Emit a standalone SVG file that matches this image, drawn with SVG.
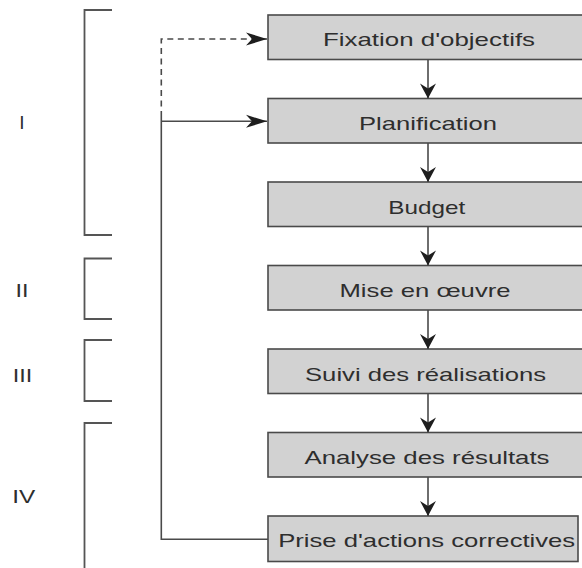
<svg xmlns="http://www.w3.org/2000/svg" width="582" height="568" viewBox="0 0 582 568">
  <style>
    .box { fill: #d2d2d2; stroke: #4a4a4a; stroke-width: 1.6; }
    .label { font-family: "Liberation Sans", Arial, sans-serif; font-size: 19px; fill: #2e2e2e; text-anchor: middle; }
    .phase { font-family: "Liberation Sans", Arial, sans-serif; font-size: 19px; fill: #2e2e2e; text-anchor: middle; }
    .line { fill: none; stroke: #4a4a4a; stroke-width: 1.6; }
    .dash { stroke-dasharray: 6 4.5; }
    .bracket { fill: none; stroke: #555; stroke-width: 1.8; }
  </style>
  <defs>
    <marker id="arrowH" viewBox="-21 -7 22 14" refX="0" refY="0" markerWidth="22" markerHeight="14" markerUnits="userSpaceOnUse" orient="auto">
      <path d="M0,0 L-21,-6.5 L-15,0 L-21,6.5 Z" fill="#1e1e1e"/>
    </marker>
    <marker id="arrowV" viewBox="-16 -9 17 18" refX="0" refY="0" markerWidth="17" markerHeight="18" markerUnits="userSpaceOnUse" orient="auto">
      <path d="M0,0 L-15,-8 L-10,0 L-15,8 Z" fill="#1e1e1e"/>
    </marker>
  </defs>

  <!-- phase brackets -->
  <g id="phases">
    <path class="bracket" d="M112,10 H84.5 V235 H112"/>
    <path class="bracket" d="M112,258.5 H84.5 V319 H112"/>
    <path class="bracket" d="M112,340 H84.5 V401 H112"/>
    <path class="bracket" d="M112,423 H84.5 V570"/>
    <text class="phase" x="21.8" y="128.5">I</text>
    <text class="phase" x="22" y="296.7" textLength="13" lengthAdjust="spacingAndGlyphs">II</text>
    <text class="phase" x="22.5" y="381.7" textLength="19.5" lengthAdjust="spacingAndGlyphs">III</text>
    <text class="phase" x="23.8" y="502.7" textLength="23" lengthAdjust="spacingAndGlyphs">IV</text>
  </g>

  <!-- process steps -->
  <g id="step-fixation">
    <rect class="box" x="268" y="15" width="322" height="44.5"/>
    <text class="label" x="429" y="46.3" textLength="212" lengthAdjust="spacingAndGlyphs">Fixation d'objectifs</text>
  </g>
  <g id="step-planification">
    <rect class="box" x="268" y="98.5" width="322" height="44.5"/>
    <text class="label" x="428" y="129.5" textLength="138" lengthAdjust="spacingAndGlyphs">Planification</text>
  </g>
  <g id="step-budget">
    <rect class="box" x="268" y="182" width="322" height="44.5"/>
    <text class="label" x="426.7" y="213.5" textLength="77" lengthAdjust="spacingAndGlyphs">Budget</text>
  </g>
  <g id="step-mise-en-oeuvre">
    <rect class="box" x="268" y="265.5" width="322" height="44.5"/>
    <text class="label" x="425" y="296.7" textLength="171" lengthAdjust="spacingAndGlyphs">Mise en œuvre</text>
  </g>
  <g id="step-suivi">
    <rect class="box" x="268" y="349" width="322" height="44.5"/>
    <text class="label" x="425.5" y="380.5" textLength="241" lengthAdjust="spacingAndGlyphs">Suivi des réalisations</text>
  </g>
  <g id="step-analyse">
    <rect class="box" x="268" y="432.5" width="322" height="44.5"/>
    <text class="label" x="427" y="463.5" textLength="245" lengthAdjust="spacingAndGlyphs">Analyse des résultats</text>
  </g>
  <g id="step-actions">
    <rect class="box" x="268" y="516" width="310" height="45.5"/>
    <text class="label" x="426.7" y="546.7" textLength="297" lengthAdjust="spacingAndGlyphs">Prise d'actions correctives</text>
  </g>

  <!-- connectors -->
  <g id="connectors">
    <line class="line" x1="428" y1="59.5" x2="428" y2="98.5" marker-end="url(#arrowV)"/>
    <line class="line" x1="428" y1="143" x2="428" y2="182" marker-end="url(#arrowV)"/>
    <line class="line" x1="428" y1="226.5" x2="428" y2="265.5" marker-end="url(#arrowV)"/>
    <line class="line" x1="428" y1="310" x2="428" y2="349" marker-end="url(#arrowV)"/>
    <line class="line" x1="428" y1="393.5" x2="428" y2="432.5" marker-end="url(#arrowV)"/>
    <line class="line" x1="428" y1="477" x2="428" y2="516" marker-end="url(#arrowV)"/>
    <!-- feedback loop from corrective actions -->
    <path class="line" d="M268,539.3 H161.3 V117"/>
    <line class="line" x1="161.3" y1="121.3" x2="267" y2="121.3" marker-end="url(#arrowH)"/>
    <path class="line dash" d="M161.3,117 V39 H267" marker-end="url(#arrowH)"/>
  </g>
</svg>
